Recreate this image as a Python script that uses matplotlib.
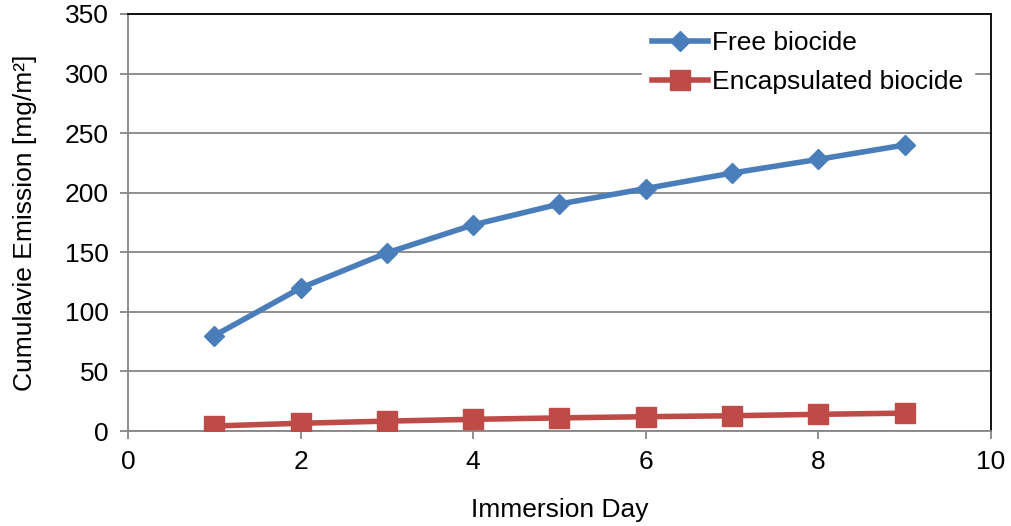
import matplotlib
matplotlib.use("Agg")
import matplotlib.pyplot as plt

plt.rcParams['font.family'] = ['Liberation Sans', 'DejaVu Sans']

days = [1, 2, 3, 4, 5, 6, 7, 8, 9]
free_biocide = [80, 120, 149.5, 173, 190.5, 203.5, 216.5, 228, 240]
encapsulated_biocide = [4.2, 6.5, 8.3, 9.8, 11, 12, 12.8, 14, 15]
x_ticks = [0, 2, 4, 6, 8, 10]
y_ticks = [0, 50, 100, 150, 200, 250, 300, 350]

fig = plt.figure(figsize=(10.11, 5.26), dpi=100)
ax = fig.add_axes([0.1266, 0.1806, 0.8534, 0.7928])

ax.plot(days, free_biocide, color='#4a7ebb', lw=4, marker='D', ms=10,
        markerfacecolor='#4a7ebb', markeredgecolor='#4a7ebb', label='Free biocide', zorder=3)
ax.plot(days, encapsulated_biocide, color='#be4b48', lw=4, marker='s', ms=14.5,
        markerfacecolor='#be4b48', markeredgecolor='#be4b48', label='Encapsulated biocide', zorder=3)

ax.set_xlim(0, 10)
ax.set_ylim(0, 350)
ax.set_xticks(x_ticks)
ax.set_yticks(y_ticks)
ax.yaxis.grid(True, color='#868686', lw=1.3)
ax.set_axisbelow(True)

for s in ['left', 'bottom']:
    ax.spines[s].set_color('#868686')
    ax.spines[s].set_linewidth(1.3)
for s in ['top', 'right']:
    ax.spines[s].set_color('black')
    ax.spines[s].set_linewidth(1.3)

ax.tick_params(axis='both', direction='out', length=5.8, width=1.3, color='#868686',
               labelsize=19, pad=8)

ax.set_xlabel('Immersion Day', fontsize=19, labelpad=17)
ax.set_ylabel('Cumulavie Emission [mg/m²]', fontsize=19, labelpad=20)

leg = ax.legend(loc='upper right', bbox_to_anchor=(0.98, 0.985), frameon=True,
                fontsize=19, handlelength=2.1, handletextpad=0.15, labelspacing=0.57,
                borderpad=0.4, borderaxespad=0)
leg.get_frame().set_facecolor('white')
leg.get_frame().set_edgecolor('white')
leg.get_frame().set_alpha(1)
leg.get_frame().set_boxstyle('square', pad=0)

fig.savefig('out.png', dpi=100)
